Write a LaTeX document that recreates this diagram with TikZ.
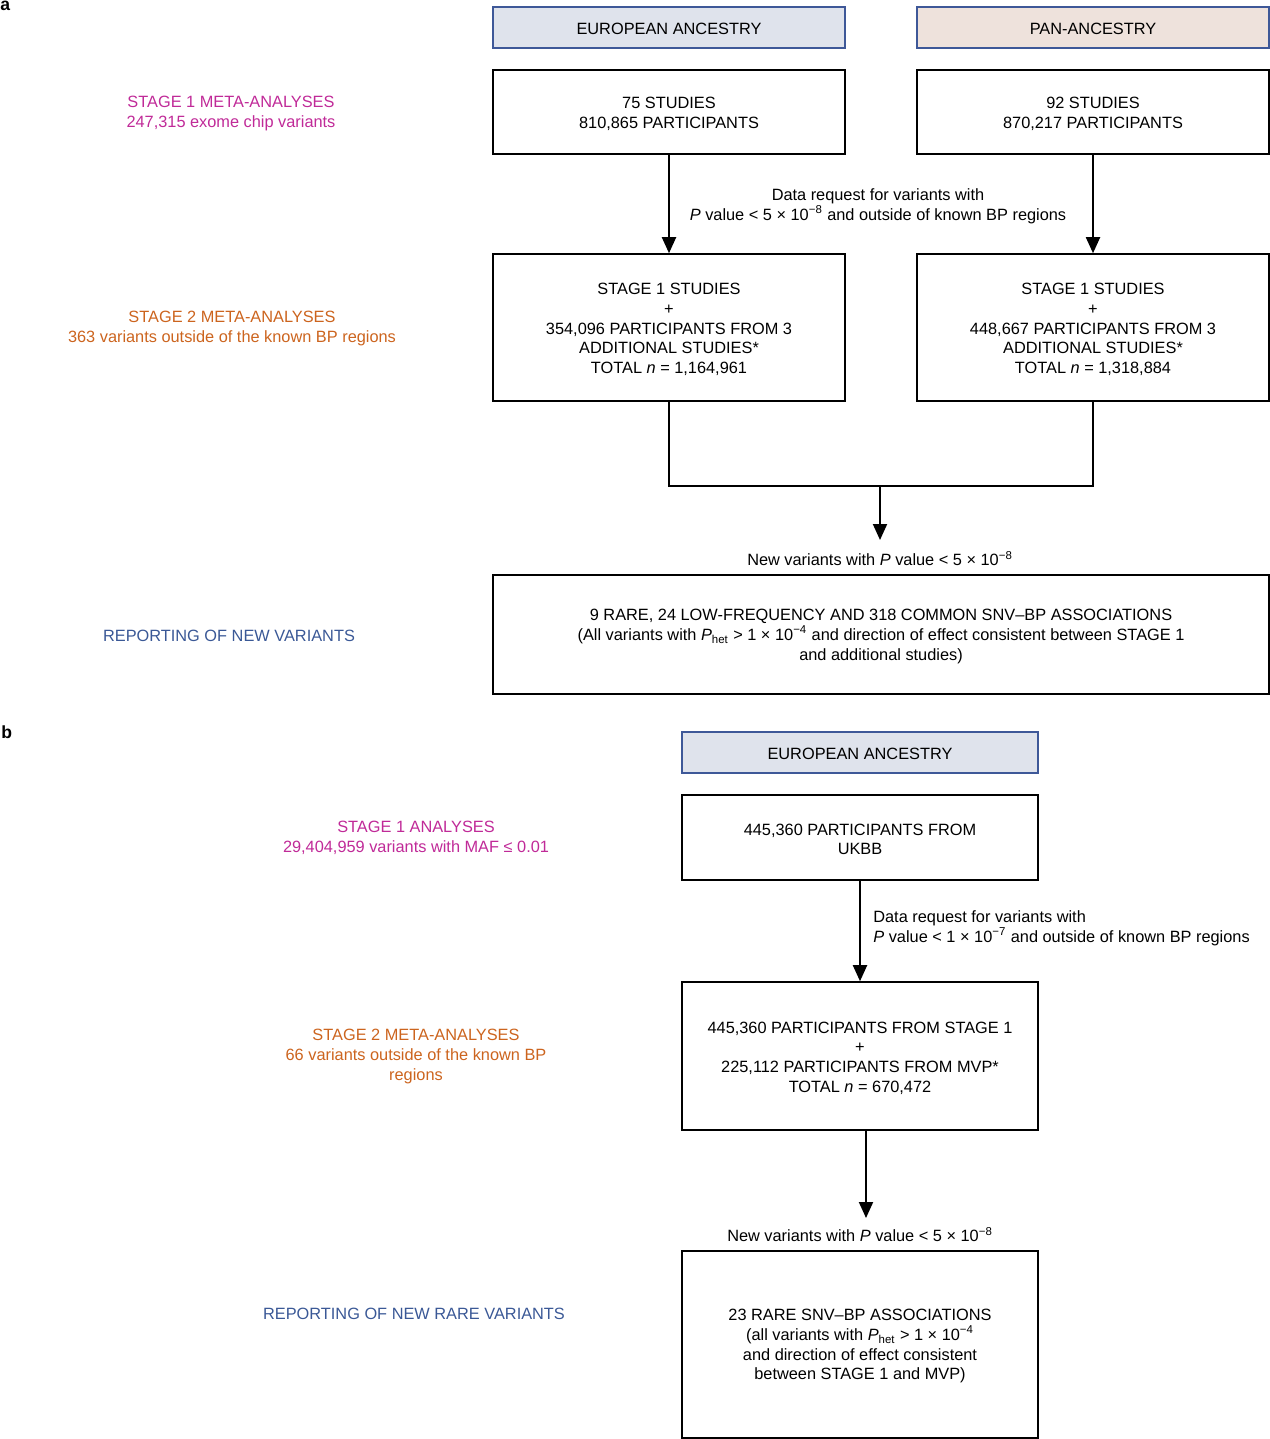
\documentclass[tikz,border=0pt]{standalone}
\usepackage{fontspec}
\setmainfont{Liberation Sans}
\usetikzlibrary{arrows.meta}
\definecolor{stgone}{RGB}{192,42,152}
\definecolor{stgtwo}{RGB}{204,100,30}
\definecolor{rep}{RGB}{58,88,150}
\definecolor{hdrline}{RGB}{62,88,152}
\definecolor{eurfill}{RGB}{223,227,236}
\definecolor{panfill}{RGB}{238,226,220}
\newcommand{\sups}[1]{\textsuperscript{#1}}
\newcommand{\subs}[1]{\textsubscript{#1}}
\newcommand{\tstrut}{\rule{0pt}{8.6pt}}
\begin{document}
\begin{tikzpicture}[x=0.02cm,y=-0.02cm,
  txt/.style={font=\fontsize{9.3}{11.2}\selectfont, align=center, inner sep=0pt},
  boxnode/.style={txt, draw=black, line width=0.9pt, minimum width=7.04cm},
  hdr/.style={txt, draw=hdrline, line width=1pt, minimum width=7.04cm, minimum height=0.82cm},
  arr/.style={line width=1.1pt, -{Triangle[width=0.28cm,length=0.32cm]}},
  plainline/.style={line width=1.1pt},
  panel/.style={font=\fontsize{10}{12}\selectfont\bfseries, inner sep=0pt}]
\useasboundingbox (0,0) rectangle (1270,1439);

% panel labels
\node[panel, anchor=base west] (pa) at (0,11) {a};
\node[panel, anchor=base west] (pb) at (1,738) {b};

% ---------- panel a ----------
\node[hdr, fill=eurfill] (hE) at (669,27.5) {\tstrut EUROPEAN ANCESTRY};
\node[hdr, fill=panfill] (hP) at (1093,27.5) {\tstrut PAN-ANCESTRY};

\node[boxnode, minimum height=1.68cm] (A1) at (669,112) {\tstrut 75 STUDIES\\810,865 PARTICIPANTS};
\node[boxnode, minimum height=1.68cm] (A2) at (1093,112) {\tstrut 92 STUDIES\\870,217 PARTICIPANTS};

\node[boxnode, minimum height=2.94cm] (A3) at (669,327.5) {\tstrut STAGE 1 STUDIES\\+\\354,096 PARTICIPANTS FROM 3\\ADDITIONAL STUDIES*\\TOTAL \textit{n} = 1,164,961};
\node[boxnode, minimum height=2.94cm] (A4) at (1093,327.5) {\tstrut STAGE 1 STUDIES\\+\\448,667 PARTICIPANTS FROM 3\\ADDITIONAL STUDIES*\\TOTAL \textit{n} = 1,318,884};

\node[boxnode, minimum width=15.52cm, minimum height=2.38cm] (A5) at (881,634.5) {\tstrut 9 RARE, 24 LOW-FREQUENCY AND 318 COMMON SNV–BP ASSOCIATIONS\\(All variants with \textit{P}\subs{het} > 1 × 10\sups{−4} and direction of effect consistent between STAGE 1\\and additional studies)};

\node[txt] (reqA) at (878,206.5) {Data request for variants with\\\textit{P} value < 5 × 10\sups{−8} and outside of known BP regions};
\node[txt] (newA) at (880,558.5) {New variants with \textit{P} value < 5 × 10\sups{−8}};

\draw[arr] (A1.south) -- (A3.north);
\draw[arr] (A2.south) -- (A4.north);
\coordinate (jm) at (880,486);
\coordinate (a5in) at (880,540);
\draw[plainline] (A3.south) -- (A3.south |- jm) -- (A4.south |- jm) -- (A4.south);
\draw[arr] (jm) -- (a5in);

\node[txt, text=stgone] (lA1) at (231,113.5) {STAGE 1 META-ANALYSES\\247,315 exome chip variants};
\node[txt, text=stgtwo] (lA2) at (232,328.5) {STAGE 2 META-ANALYSES\\363 variants outside of the known BP regions};
\node[txt, text=rep] (lA3) at (229,635.5) {REPORTING OF NEW VARIANTS};

% ---------- panel b ----------
\node[hdr, fill=eurfill, minimum width=7.12cm] (hB) at (860,752.5) {\tstrut EUROPEAN ANCESTRY};
\node[boxnode, minimum width=7.12cm, minimum height=1.70cm] (B1) at (860,837.5) {\tstrut 445,360 PARTICIPANTS FROM\\UKBB};
\node[boxnode, minimum width=7.12cm, minimum height=2.96cm] (B2) at (860,1056) {\tstrut 445,360 PARTICIPANTS FROM STAGE 1\\+\\225,112 PARTICIPANTS FROM MVP*\\TOTAL \textit{n} = 670,472};
\node[boxnode, minimum width=7.12cm, minimum height=3.74cm] (B3) at (860,1344.5) {\tstrut 23 RARE SNV–BP ASSOCIATIONS\\(all variants with \textit{P}\subs{het} > 1 × 10\sups{−4}\\and direction of effect consistent\\between STAGE 1 and MVP)};

\node[txt, align=left, anchor=west] (reqB) at (873,928.5) {Data request for variants with\\\textit{P} value < 1 × 10\sups{−7} and outside of known BP regions};
\node[txt] (newB) at (860,1234.5) {New variants with \textit{P} value < 5 × 10\sups{−8}};

\draw[arr] (B1.south) -- (B2.north);
\coordinate (b2out) at (866,1130);
\coordinate (b3in) at (866,1218);
\draw[arr] (b2out) -- (b3in);

\node[txt, text=stgone] (lB1) at (416,837.5) {STAGE 1 ANALYSES\\29,404,959 variants with MAF ≤ 0.01};
\node[txt, text=stgtwo] (lB2) at (416,1056.5) {STAGE 2 META-ANALYSES\\66 variants outside of the known BP\\regions};
\node[txt, text=rep] (lB3) at (414,1313.5) {REPORTING OF NEW RARE VARIANTS};
\end{tikzpicture}
\end{document}
